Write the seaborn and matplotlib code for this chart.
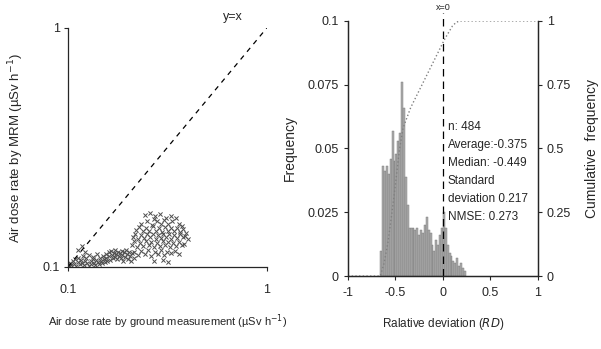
import numpy as np
import pandas as pd
import matplotlib
matplotlib.use('Agg')
import matplotlib.pyplot as plt
import seaborn as sns

# ---- left panel: MRM vs ground measurement (uSv/h) ----
ground = [0.101, 0.103, 0.104, 0.106, 0.107, 0.109, 0.110, 0.112, 0.113, 0.115, 0.116, 0.118, 0.119,
          0.121, 0.122, 0.124, 0.125, 0.127, 0.128, 0.130, 0.131, 0.133, 0.134, 0.136, 0.137, 0.139,
          0.140, 0.142, 0.143, 0.145, 0.146, 0.148, 0.150, 0.151, 0.153, 0.155, 0.156, 0.158, 0.160,
          0.161, 0.163, 0.165, 0.166, 0.168, 0.170, 0.172, 0.173, 0.175, 0.177, 0.179, 0.180, 0.182,
          0.184, 0.186, 0.188, 0.190, 0.192, 0.194, 0.196, 0.198, 0.200, 0.203, 0.205, 0.208, 0.211,
          0.214, 0.112, 0.122, 0.118,
          0.245, 0.260, 0.275, 0.290, 0.310, 0.330, 0.350, 0.270,
          0.232, 0.250, 0.265, 0.280, 0.295, 0.305, 0.320, 0.335, 0.360, 0.375,
          0.220, 0.228, 0.238, 0.248, 0.257, 0.268, 0.278, 0.287, 0.298, 0.308, 0.318, 0.328, 0.340,
          0.352, 0.365, 0.380, 0.392,
          0.212, 0.218, 0.226, 0.234, 0.242, 0.250, 0.259, 0.267, 0.276, 0.284, 0.293, 0.302, 0.311,
          0.321, 0.331, 0.342, 0.354, 0.367, 0.378, 0.390, 0.400,
          0.210, 0.216, 0.223, 0.231, 0.239, 0.247, 0.255, 0.263, 0.272, 0.281, 0.290, 0.299, 0.308,
          0.317, 0.327, 0.338, 0.349, 0.361, 0.373, 0.385,
          0.215, 0.224, 0.233, 0.243, 0.253, 0.262, 0.273, 0.283, 0.294, 0.305, 0.316, 0.330, 0.345,
          0.360, 0.270, 0.300, 0.320]
mrm = [0.101, 0.104, 0.102, 0.106, 0.103, 0.108, 0.101, 0.105, 0.109, 0.103, 0.107, 0.104, 0.111,
       0.102, 0.106, 0.109, 0.104, 0.101, 0.112, 0.106, 0.103, 0.108, 0.110, 0.104, 0.102, 0.107,
       0.113, 0.105, 0.103, 0.109, 0.106, 0.104, 0.111, 0.108, 0.105, 0.113, 0.109, 0.106, 0.115,
       0.111, 0.107, 0.117, 0.112, 0.109, 0.114, 0.110, 0.118, 0.113, 0.108, 0.116, 0.111, 0.114,
       0.109, 0.117, 0.112, 0.106, 0.115, 0.110, 0.118, 0.113, 0.108, 0.116, 0.111, 0.106, 0.114,
       0.109, 0.118, 0.115, 0.122,
       0.165, 0.168, 0.163, 0.166, 0.161, 0.164, 0.160, 0.158,
       0.152, 0.156, 0.150, 0.155, 0.152, 0.157, 0.151, 0.155, 0.152, 0.149,
       0.143, 0.147, 0.141, 0.146, 0.142, 0.148, 0.141, 0.145, 0.140, 0.147, 0.142, 0.146, 0.141,
       0.145, 0.140, 0.144, 0.139,
       0.134, 0.138, 0.131, 0.136, 0.132, 0.138, 0.133, 0.137, 0.131, 0.136, 0.132, 0.138, 0.133,
       0.137, 0.131, 0.136, 0.132, 0.137, 0.133, 0.135, 0.131,
       0.124, 0.128, 0.121, 0.126, 0.122, 0.128, 0.123, 0.127, 0.121, 0.126, 0.122, 0.128, 0.123,
       0.127, 0.121, 0.126, 0.122, 0.127, 0.123, 0.125,
       0.115, 0.112, 0.117, 0.113, 0.118, 0.111, 0.116, 0.113, 0.118, 0.112, 0.116, 0.114, 0.117,
       0.113, 0.106, 0.107, 0.105]

# ---- right panel: relative deviation histogram ----
rd_centers = [-0.65, -0.63, -0.61, -0.59, -0.57, -0.55, -0.53, -0.51, -0.49, -0.47, -0.45, -0.43,
              -0.41, -0.39, -0.37, -0.35, -0.33, -0.31, -0.29, -0.27, -0.25, -0.23, -0.21, -0.19,
              -0.17, -0.15, -0.13, -0.11, -0.09, -0.07, -0.05, -0.03, -0.01, 0.01, 0.03, 0.05,
              0.07, 0.09, 0.11, 0.13, 0.15, 0.17, 0.19, 0.21, 0.23]
rd_freq = [0.010, 0.043, 0.041, 0.043, 0.040, 0.046, 0.057, 0.045, 0.048, 0.053, 0.056, 0.076,
           0.066, 0.039, 0.028, 0.019, 0.019, 0.019, 0.018, 0.019, 0.016, 0.018, 0.017, 0.020,
           0.023, 0.018, 0.017, 0.012, 0.010, 0.014, 0.012, 0.016, 0.019, 0.025, 0.019, 0.012,
           0.009, 0.008, 0.006, 0.005, 0.007, 0.004, 0.005, 0.003, 0.002]
rd_bin_edges = [round(c - 0.01, 3) for c in rd_centers] + [0.24]

cum_x = [-1.0, -0.66, -0.62, -0.58, -0.54, -0.50, -0.46, -0.42, -0.38, -0.34, -0.30, -0.26, -0.22,
         -0.18, -0.14, -0.10, -0.06, -0.02, 0.02, 0.06, 0.10, 0.14, 0.18, 0.22, 1.0]
cum_y = [0.0, 0.0, 0.05, 0.13, 0.24, 0.36, 0.49, 0.58, 0.62, 0.66, 0.69, 0.72, 0.75,
         0.78, 0.81, 0.84, 0.87, 0.90, 0.93, 0.955, 0.98, 0.995, 1.0, 1.0, 1.0]

stats_text = ['n: 484', 'Average:-0.375', 'Median: -0.449', 'Standard', 'deviation 0.217', 'NMSE: 0.273']

sns.set_style('ticks')
plt.rcParams['font.family'] = ['Liberation Sans', 'DejaVu Sans']
plt.rcParams['axes.linewidth'] = 0.9

fig = plt.figure(figsize=(6.01, 3.49), dpi=100)

# left panel
ax1 = fig.add_axes([0.113, 0.235, 0.331, 0.685])
sns.scatterplot(x=ground, y=mrm, ax=ax1, marker='x', s=9, color='0.3', linewidth=0.7)
ax1.plot([0.1, 1], [0.1, 1], color='black', linestyle=(0, (4, 4)), linewidth=0.9)
ax1.set_xscale('log')
ax1.set_yscale('log')
ax1.set_xlim(0.1, 1)
ax1.set_ylim(0.1, 1)
ax1.set_xticks([0.1, 1])
ax1.set_xticklabels(['0.1', '1'])
ax1.set_yticks([0.1, 1])
ax1.set_yticklabels(['0.1', '1'])
ax1.minorticks_off()
ax1.tick_params(labelsize=9, length=3, width=0.8)
ax1.tick_params(axis='x', pad=9)
ax1.tick_params(axis='y', pad=3)
sns.despine(ax=ax1)
ax1.text(0.6, 1.08, 'y=x', fontsize=9, clip_on=False)
ax1.set_xlabel('Air dose rate by ground measurement (\u00b5Sv h$^{-1}$)', fontsize=8, labelpad=12)
ax1.set_ylabel('Air dose rate by MRM (\u00b5Sv h$^{-1}$)', fontsize=9.5, labelpad=12)

# right panel
ax2 = fig.add_axes([0.579, 0.209, 0.316, 0.731])
sns.histplot(x=rd_centers, weights=rd_freq, bins=rd_bin_edges, ax=ax2, stat='count',
             color='0.68', edgecolor='0.45', linewidth=0.3, alpha=1)
ax2.set_xlim(-1, 1)
ax2.set_ylim(0, 0.1)
ax2.set_xticks([-1, -0.5, 0, 0.5, 1])
ax2.set_xticklabels(['-1', '-0.5', '0', '0.5', '1'])
ax2.set_yticks([0, 0.025, 0.05, 0.075, 0.1])
ax2.set_yticklabels(['0', '0.025', '0.05', '0.075', '0.1'])
ax2.tick_params(labelsize=9, length=3, width=0.8)
ax2.tick_params(axis='x', pad=5)
ax2.axvline(0, ymin=0, ymax=1.03, color='black', linestyle=(0, (6, 4)), linewidth=0.9, clip_on=False)
ax2.text(0, 0.1035, 'x=0', fontsize=6.5, ha='center', va='bottom')
for i, line in enumerate(stats_text):
    ax2.text(0.05, 0.0585 - i * 0.0071, line, fontsize=8.5, va='center')
ax2.set_xlabel('Ralative deviation ($\\it{RD}$)', fontsize=8.5, labelpad=12)
ax2.set_ylabel('Frequency', fontsize=10, labelpad=8)
ax2.spines['top'].set_visible(False)

ax3 = ax2.twinx()
sns.lineplot(x=cum_x, y=cum_y, ax=ax3, color='0.5', linestyle=':', linewidth=1.0)
ax3.set_ylim(0, 1)
ax3.set_yticks([0, 0.25, 0.5, 0.75, 1])
ax3.set_yticklabels(['0', '0.25', '0.5', '0.75', '1'])
ax3.tick_params(labelsize=9, length=3, width=0.8)
ax3.set_ylabel('Cumulative  frequency', fontsize=10, labelpad=10)
ax3.spines['top'].set_visible(False)

fig.savefig('out.png', dpi=100)
